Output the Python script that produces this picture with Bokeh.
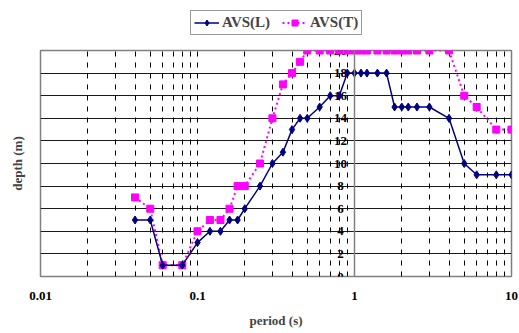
from bokeh.plotting import figure
from bokeh.layouts import column
from bokeh.models import (Range1d, FixedTicker, Grid, Span, Legend, LegendItem,
                          CustomJSTickFormatter, ColumnDataSource)
from bokeh.core.properties import value
from bokeh.embed import file_html
from bokeh.resources import INLINE

period = [0.04, 0.05, 0.06, 0.08, 0.1, 0.12, 0.14, 0.16, 0.18, 0.2, 0.25, 0.3, 0.35,
          0.4, 0.45, 0.5, 0.6, 0.7, 0.8, 0.9, 1.0, 1.1, 1.2, 1.4, 1.6, 1.8, 2.0, 2.2,
          2.5, 3.0, 4.0, 5.0, 6.0, 8.0, 10.0]
avs_l = [5, 5, 1, 1, 3, 4, 4, 5, 5, 6, 8, 10, 11, 13, 14, 14, 15, 16, 16, 18, 18, 18,
         18, 18, 18, 15, 15, 15, 15, 15, 14, 10, 9, 9, 9]
avs_t = [7, 6, 1, 1, 4, 5, 5, 6, 8, 8, 10, 14, 17, 18, 19, 20, 20, 20, 20, 20, 20, 20,
         20, 20, 20, 20, 20, 20, 20, 20, 20, 16, 15, 13, 13]
series_names = ["AVS(L)", "AVS(T)"]
x_ticks = [0.01, 0.1, 1, 10]
y_ticks = [0, 2, 4, 6, 8, 10, 12, 14, 16, 18, 20]
y_tick_labels = [str(v) for v in y_ticks]

FONT = "Liberation Serif"
L_COLOR = "#000080"
T_COLOR = "#FF00FF"

LEG_H = 40
p = figure(width=519, height=333 - LEG_H, x_axis_type="log",
           x_range=Range1d(0.01, 10), y_range=Range1d(0, 20),
           output_backend="svg", toolbar_location=None,
           min_border_left=40, min_border_right=8, min_border_top=50 - LEG_H,
           min_border_bottom=57)
p.background_fill_color = "white"
p.border_fill_color = "white"
p.outline_line_color = "#808080"
p.outline_line_width = 1.5

# grids
p.xgrid.visible = False
p.ygrid.ticker = FixedTicker(ticks=y_ticks)
p.ygrid.grid_line_color = "#1a1a1a"
p.ygrid.grid_line_width = 1
minor_positions = [m * 10.0 ** e for e in (-2, -1, 0) for m in range(2, 10)] + [0.1]
vgrid = Grid(dimension=0, ticker=FixedTicker(ticks=minor_positions),
             grid_line_color="#000000", grid_line_dash="5 6", grid_line_width=1)
p.add_layout(vgrid)

# x axis
xa = p.xaxis[0]
xa.ticker = FixedTicker(ticks=x_ticks, minor_ticks=[])
xa.formatter = CustomJSTickFormatter(code="return tick.toString();")
xa.axis_line_color = None
xa.major_tick_out = 0
xa.major_tick_in = 0
xa.minor_tick_out = 0
xa.minor_tick_in = 0
xa.major_label_standoff = 15
xa.major_label_text_font = FONT
xa.major_label_text_font_style = "bold"
xa.major_label_text_font_size = "13px"
xa.major_label_text_color = "black"
xa.axis_label = "period (s)"
xa.axis_label_text_font = FONT
xa.axis_label_text_font_style = "bold"
xa.axis_label_text_font_size = "13px"
xa.axis_label_standoff = 10

# left axis: title only
ya = p.yaxis[0]
ya.ticker = FixedTicker(ticks=[])
ya.axis_line_color = None
ya.major_tick_out = 0
ya.major_tick_in = 0
ya.minor_tick_out = 0
ya.minor_tick_in = 0
ya.major_label_standoff = 0
ya.major_label_text_font_size = "0px"
ya.axis_label = "depth (m)"
ya.axis_label_text_font = FONT
ya.axis_label_text_font_style = "bold"
ya.axis_label_text_font_size = "13px"
ya.axis_label_standoff = 16

# y axis crossing at period = 1
p.add_layout(Span(location=1, dimension="height", line_color="#808080", line_width=1.5))
lab_src = ColumnDataSource(dict(x=[1] * len(y_ticks), y=y_ticks, t=y_tick_labels))
p.text(x="x", y="y", text="t", source=lab_src, x_offset=-14, text_align="center",
       text_baseline="middle", text_font=value(FONT), text_font_style="bold",
       text_font_size="13px", text_color="black")

# series
src = ColumnDataSource(dict(x=period, l=avs_l, t=avs_t))
line_t = dict(line_color=T_COLOR, line_width=2, line_dash="2 3")
mark_t = dict(marker="square", size=7, fill_color=T_COLOR, line_color=T_COLOR)
line_l = dict(line_color=L_COLOR, line_width=1.5)
mark_l = dict(marker="diamond", size=8, fill_color=L_COLOR, line_color=L_COLOR)
p.line("x", "t", source=src, **line_t)
p.scatter("x", "t", source=src, **mark_t)
p.line("x", "l", source=src, **line_l)
p.scatter("x", "l", source=src, **mark_l)

# legend strip above the chart (same styles, legend-only renderers without points)
lf = figure(width=519, height=LEG_H, x_range=Range1d(0, 1), y_range=Range1d(0, 1),
            output_backend="svg", toolbar_location=None,
            x_axis_location=None, y_axis_location=None,
            min_border_left=0, min_border_right=0, min_border_top=0, min_border_bottom=0)
lf.grid.visible = False
lf.outline_line_color = None
lf.background_fill_color = "white"
lf.border_fill_color = "white"
nan = float("nan")
empty = ColumnDataSource(dict(x=[nan], y=[nan]))
gl1 = lf.line("x", "y", source=empty, **line_l)
gm1 = lf.scatter("x", "y", source=empty, **mark_l)
gl2 = lf.line("x", "y", source=empty, **line_t)
gm2 = lf.scatter("x", "y", source=empty, **mark_t)

legend = Legend(items=[LegendItem(label=series_names[0], renderers=[gl1, gm1]),
                       LegendItem(label=series_names[1], renderers=[gl2, gm2])],
                orientation="horizontal", location=(150, 5))
legend.label_text_font = FONT
legend.label_text_font_style = "bold"
legend.label_text_font_size = "15px"
legend.glyph_width = 25
legend.glyph_height = 15
legend.label_standoff = 3
legend.spacing = 12
legend.padding = 3
legend.margin = 0
legend.border_line_color = "#333333"
legend.border_line_width = 1
legend.background_fill_color = "white"
legend.background_fill_alpha = 1
lf.add_layout(legend, "center")

layout = column(lf, p, spacing=0)
open("out.html", "w").write(file_html(layout, INLINE))
